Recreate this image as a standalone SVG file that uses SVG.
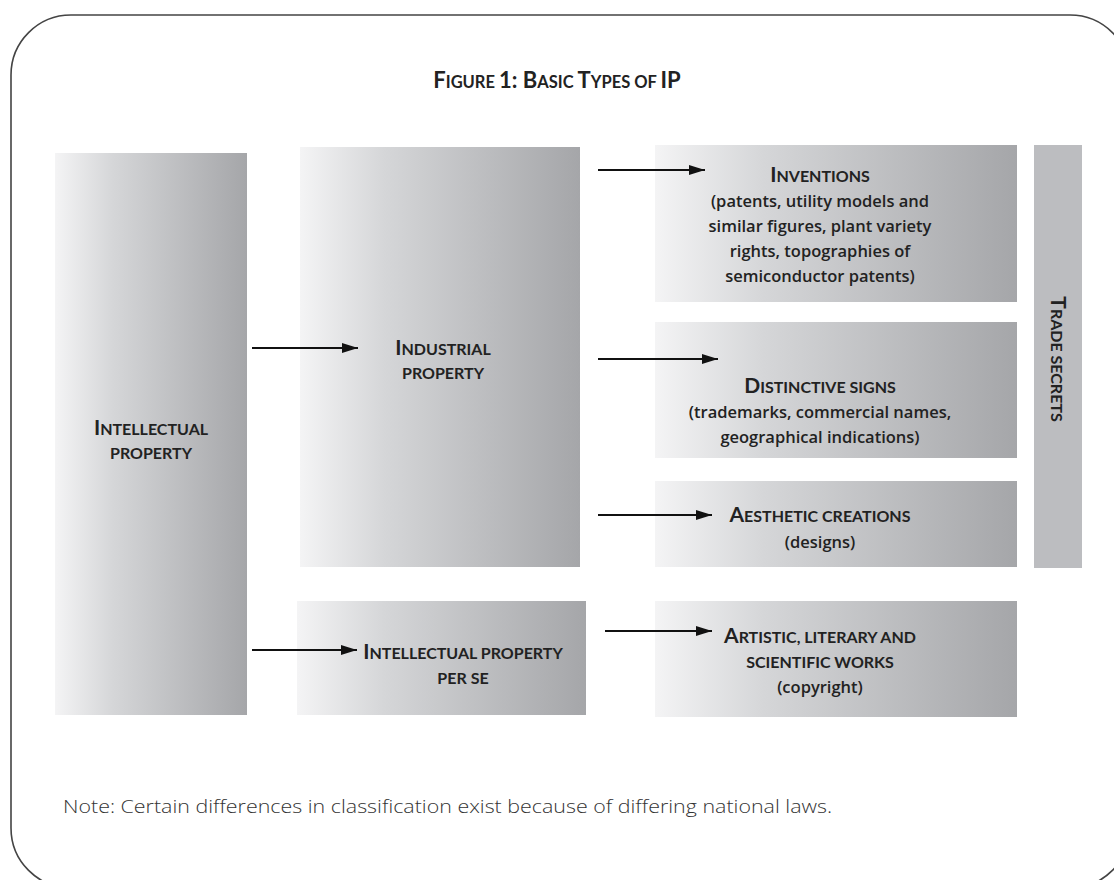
<svg xmlns="http://www.w3.org/2000/svg" width="1114" height="880" viewBox="0 0 1114 880">
<defs>
<linearGradient id="g" x1="0" y1="0" x2="1" y2="0">
<stop offset="0" stop-color="#f4f4f5"/>
<stop offset="0.3" stop-color="#d5d6d8"/>
<stop offset="1" stop-color="#a5a6a9"/>
</linearGradient>
<marker id="ah" viewBox="0 0 16 10" refX="16" refY="5" markerWidth="16" markerHeight="10" markerUnits="userSpaceOnUse" orient="auto">
<path d="M0,0 L16,5 L0,10 Z" fill="#111"/>
</marker>
<style>
.box{fill:url(#g)}
.sc{font-family:Lato,"Open Sans","Liberation Sans",sans-serif;font-weight:700;text-transform:uppercase;fill:#222;text-anchor:middle;font-size:16px}
.sc .c{font-size:21px}
.ttl{font-size:16.5px}
.ttl .c{font-size:22px}
.t{font-family:"Open Sans","Liberation Sans",sans-serif;font-weight:600;fill:#222;text-anchor:middle;font-size:16.5px}
.ar{stroke:#111;stroke-width:2;fill:none;marker-end:url(#ah)}
</style>
</defs>
<rect x="11" y="15" width="1119" height="873" rx="60" ry="60" fill="#fff" stroke="#444" stroke-width="1.6"/>
<text class="sc ttl" x="557" y="88"><tspan class="c">F</tspan>igure <tspan class="c">1: B</tspan>asic <tspan class="c">T</tspan>ypes of <tspan class="c">IP</tspan></text>

<g id="intellectual-property">
<rect class="box" x="55" y="153" width="192" height="562"/>
<text class="sc" x="151" y="435"><tspan class="c">I</tspan>ntellectual<tspan x="151" dy="24">property</tspan></text>
</g>
<g id="industrial-property">
<rect class="box" x="300" y="147" width="280" height="420"/>
<text class="sc" x="443" y="355"><tspan class="c">I</tspan>ndustrial<tspan x="443" dy="24">property</tspan></text>
</g>
<g id="inventions">
<rect class="box" x="655" y="145" width="362" height="157"/>
<text class="sc" x="820" y="182"><tspan class="c">I</tspan>nventions</text>
<text class="t" x="820" y="207">(patents, utility models and<tspan x="820" dy="25">similar figures, plant variety</tspan><tspan x="820" dy="25">rights, topographies of</tspan><tspan x="820" dy="25">semiconductor patents)</tspan></text>
</g>
<g id="distinctive-signs">
<rect class="box" x="655" y="322" width="362" height="136"/>
<text class="sc" x="820" y="393"><tspan class="c">D</tspan>istinctive signs</text>
<text class="t" x="820" y="418">(trademarks, commercial names,<tspan x="820" dy="25">geographical indications)</tspan></text>
</g>
<g id="aesthetic-creations">
<rect class="box" x="655" y="481" width="362" height="86"/>
<text class="sc" x="820" y="522"><tspan class="c">A</tspan>esthetic creations</text>
<text class="t" x="820" y="548">(designs)</text>
</g>
<g id="trade-secrets">
<rect x="1034" y="145" width="48" height="423" fill="#bcbdc0"/>
<text class="sc" transform="translate(1051 359) rotate(90)" x="0" y="0"><tspan class="c">T</tspan>rade secrets</text>
</g>
<g id="ip-per-se">
<rect class="box" x="297" y="601" width="289" height="114"/>
<text class="sc" x="463" y="659"><tspan class="c">I</tspan>ntellectual property<tspan x="463" dy="25">per se</tspan></text>
</g>
<g id="artistic-works">
<rect class="box" x="655" y="601" width="362" height="116"/>
<text class="sc" x="820" y="643"><tspan class="c">A</tspan>rtistic, literary and<tspan x="820" dy="25">scientific works</tspan></text>
<text class="t" x="820" y="693">(copyright)</text>
</g>

<g id="connectors">
<line class="ar" x1="252" y1="348" x2="358" y2="348"/>
<line class="ar" x1="252" y1="650" x2="357" y2="650"/>
<line class="ar" x1="598" y1="170" x2="705" y2="170"/>
<line class="ar" x1="598" y1="359" x2="718" y2="359"/>
<line class="ar" x1="598" y1="515" x2="712" y2="515"/>
<line class="ar" x1="605" y1="631" x2="712" y2="631"/>
</g>

<text x="63" y="813" font-family="Open Sans, Liberation Sans, sans-serif" font-weight="300" font-size="19" fill="#333" textLength="769" lengthAdjust="spacingAndGlyphs">Note: Certain differences in classification exist because of differing national laws.</text>
</svg>
